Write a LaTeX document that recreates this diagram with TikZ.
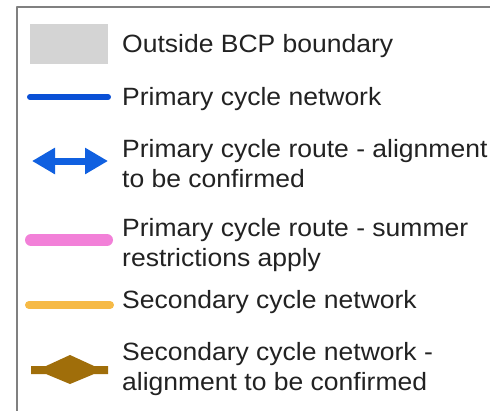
\documentclass[tikz,border=0pt]{standalone}
\usepackage{fontspec}
\setmainfont{Liberation Sans}[FakeStretch=1.06]
\usetikzlibrary{arrows.meta}
\definecolor{frame}{RGB}{128,128,128}
\definecolor{boundary}{RGB}{212,212,212}
\definecolor{primary}{RGB}{10,80,214}
\definecolor{primaryalt}{RGB}{16,96,224}
\definecolor{summer}{RGB}{242,128,216}
\definecolor{secondary}{RGB}{246,186,70}
\definecolor{secondaryalt}{RGB}{160,110,10}
\definecolor{legtext}{RGB}{34,34,34}
\begin{document}
\begin{tikzpicture}[x=1pt, y=-1pt, line join=round, line cap=round,
  item/.style={anchor=west, inner sep=0pt, align=left, text=legtext,
    font=\fontsize{25}{30}\selectfont}]
\def\xa{30} \def\xb{108} \def\xt{122}
\useasboundingbox (0,0) rectangle (490,410);
\fill[white] (0,0) rectangle (490,410);
\draw[frame, line width=2pt, line cap=butt] (17,411)--(17,7)--(491,7);
% symbols
\fill[boundary] (\xa,24) rectangle (\xb,64);
\draw[primary, line width=6pt] (\xa,97)--(\xb,97);
\draw[primaryalt, line width=7pt, line cap=butt,
  {Triangle[length=23pt,width=25pt]}-{Triangle[length=23pt,width=25pt]}] (32,161)--(108,161);
\draw[summer, line width=12pt] (31,240)--(107,240);
\draw[secondary, line width=8pt] (29,305)--(110,305);
\fill[secondaryalt] (31,366)--(46,366)--(70,355)--(94,366)--(108,366)
  --(108,374)--(94,374)--(70,384)--(46,374)--(31,374)--cycle;
% texts
\node[item] (tb) at (\xt,46) {Outside BCP boundary};
\node[item] (tp) at (\xt,99) {Primary cycle network};
\node[item] (tpa) at (\xt,164) {Primary cycle route - alignment\\to be confirmed};
\node[item] (tps) at (\xt,245) {Primary cycle route - summer\\restrictions apply};
\node[item] (ts) at (\xt,302) {Secondary cycle network};
\node[item] (tsa) at (\xt,369) {Secondary cycle network -\\alignment to be confirmed};
\end{tikzpicture}
\end{document}
